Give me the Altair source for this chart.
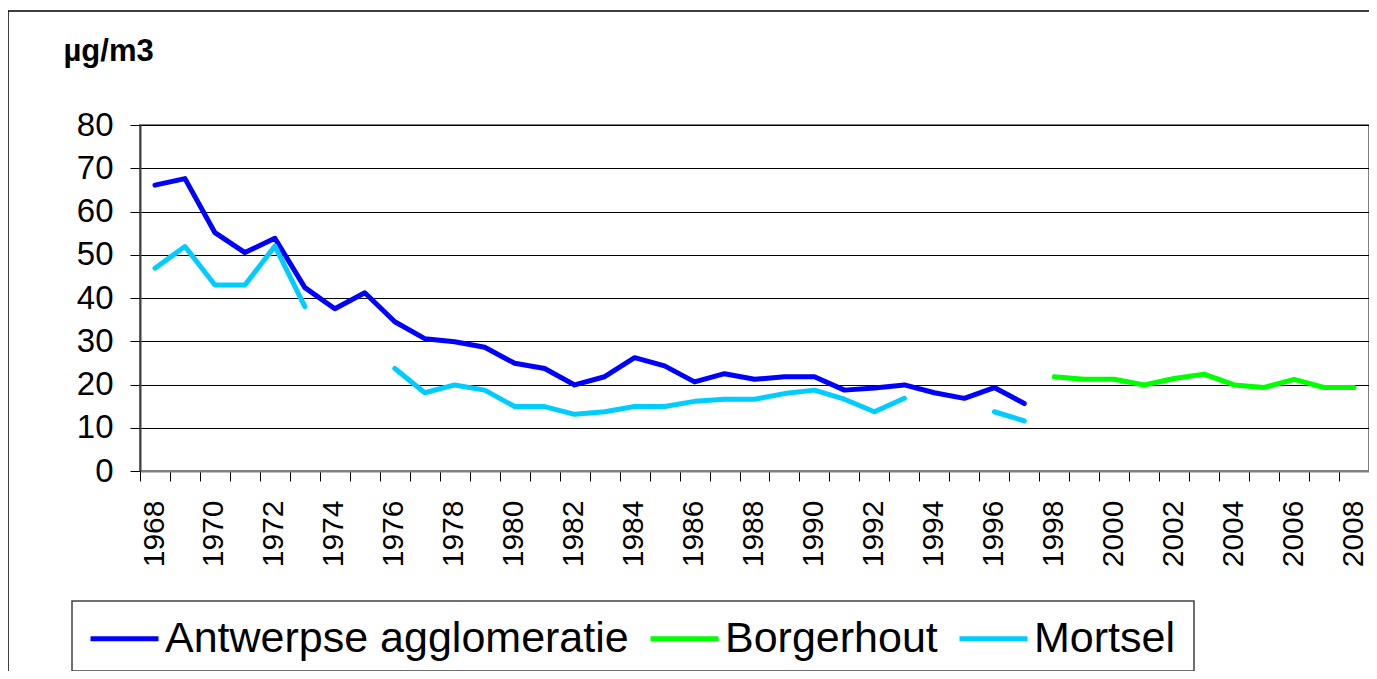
import altair as alt
import pandas as pd

years = list(range(1968, 2009))

antwerpse = [66.1, 67.6, 55.1, 50.5, 53.8, 42.4, 37.5, 41.2, 34.5, 30.6,
             29.9, 28.6, 24.9, 23.7, 19.9, 21.8, 26.2, 24.3, 20.6, 22.5,
             21.2, 21.8, 21.8, 18.7, 19.2, 19.9, 18.1, 16.8, 19.3, 15.6,
             None, None, None, None, None, None, None, None, None, None, None]

borgerhout = [None] * 30 + [21.8, 21.2, 21.2, 19.9, 21.4, 22.4, 19.9, 19.3, 21.2, 19.3, 19.3]

mortsel = [46.9, 51.9, 43.0, 43.0, 52.0, 38.0, None, None, 23.7, 18.1,
           19.9, 18.7, 14.9, 14.9, 13.1, 13.7, 14.9, 14.9, 16.1, 16.6,
           16.6, 17.9, 18.7, 16.6, 13.7, 16.8, None, None, 13.7, 11.6,
           None, None, None, None, None, None, None, None, None, None, None]

series_names = ["Antwerpse agglomeratie", "Borgerhout", "Mortsel"]
series_colors = ["#0000FF", "#00FF00", "#00CCFF"]
y_ticks = [0, 10, 20, 30, 40, 50, 60, 70, 80]

rows = []
for name, vals in zip(series_names, [antwerpse, borgerhout, mortsel]):
    seg = 0
    prev_none = True
    for yr, v in zip(years, vals):
        if v is None:
            prev_none = True
            continue
        if prev_none:
            seg += 1
            prev_none = False
        rows.append({"year": yr, "value": v, "series": name, "seg": f"{name}-{seg}"})
df = pd.DataFrame(rows)

W, H = 1229, 346

tick_vals = [y - 0.5 for y in years] + [years[-1] + 0.5]

x_enc = alt.X(
    "year:Q",
    scale=alt.Scale(domain=[years[0] - 0.5, years[-1] + 0.5], nice=False, zero=False),
    axis=alt.Axis(
        values=tick_vals,
        labelExpr="(datum.value + 0.5) % 2 == 0 ? '' + (datum.value + 0.5) : ''",
        labelAngle=270,
        labelAlign="right",
        labelBaseline="middle",
        labelOffset=14,
        labelPadding=19,
        labelFontSize=30,
        labelFont="Liberation Sans",
        labelColor="black",
        labelOverlap=False,
        labelBound=False,
        labelFlush=False,
        tickSize=10,
        tickColor="black",
        tickWidth=1,
        domainColor="#808080",
        domainWidth=2,
        grid=False,
        title=None,
    ),
)

y_enc = alt.Y(
    "value:Q",
    scale=alt.Scale(domain=[0, 80], nice=False),
    axis=alt.Axis(
        values=y_ticks,
        labelFontSize=33,
        labelFont="Liberation Sans",
        labelColor="black",
        labelPadding=17,
        tickSize=10,
        tickColor="black",
        tickWidth=1,
        domainColor="#404040",
        domainWidth=2,
        grid=True,
        gridColor="black",
        gridWidth=1,
        title="µg/m3",
        titleAngle=0,
        titleAlign="left",
        titleBaseline="alphabetic",
        titleX=-77,
        titleY=-65,
        titleFontSize=31,
        titleFontWeight="bold",
        titleFont="Liberation Sans",
        titleColor="black",
    ),
)

lines = alt.Chart(df).mark_line(
    strokeWidth=5, strokeCap="round", strokeJoin="round"
).encode(
    x=x_enc,
    y=y_enc,
    color=alt.Color(
        "series:N",
        scale=alt.Scale(domain=series_names, range=series_colors),
        legend=alt.Legend(
            title=None,
            orient="none",
            legendX=-52,
            legendY=477,
            direction="horizontal",
            symbolType="stroke",
            symbolSize=4624,
            symbolStrokeWidth=5,
            labelFontSize=43,
            labelFont="Liberation Sans",
            labelColor="black",
            labelLimit=1000,
            labelOffset=4,
            columnPadding=11,
            padding=0,
        ),
    ),
    detail="seg:N",
)

one = pd.DataFrame({"a": [0]})

frame = alt.Chart(one).mark_rect(
    fillOpacity=0, stroke="black", strokeWidth=1.5
).encode(
    x=alt.value(-132), x2=alt.value(W + 40),
    y=alt.value(-114), y2=alt.value(H + 260),
)

legend_box = alt.Chart(one).mark_rect(
    fill="white", stroke="#404040", strokeWidth=1.5
).encode(
    x=alt.value(-68), x2=alt.value(1054),
    y=alt.value(476), y2=alt.value(546),
)

chart = alt.layer(frame, legend_box, lines).properties(
    width=W,
    height=H,
    padding={"left": 132, "top": 117, "right": 0, "bottom": 200},
    autosize="none",
    background="white",
).configure_view(stroke="#808080", strokeWidth=2)

chart.save("out.html", embed_options={"renderer": "svg", "actions": False})
